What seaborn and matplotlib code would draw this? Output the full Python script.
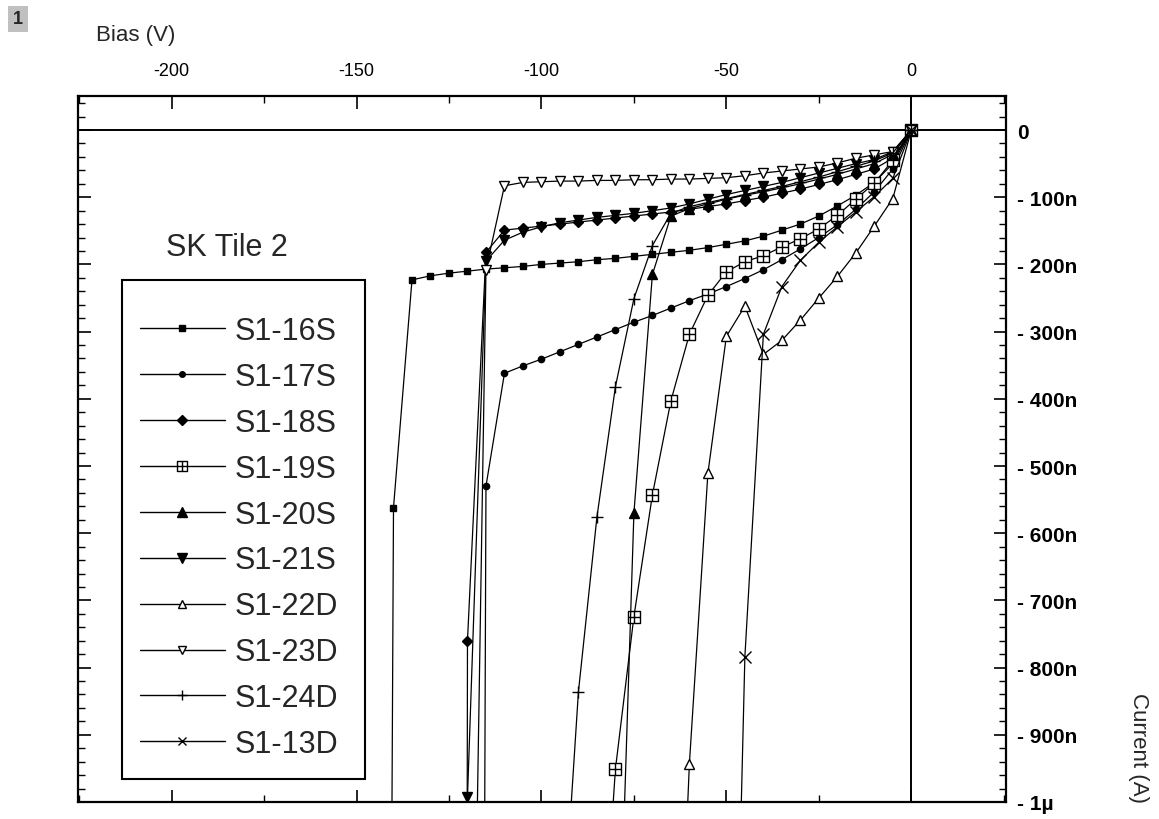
import matplotlib
matplotlib.use('Agg')
import matplotlib.pyplot as plt
from matplotlib.path import Path
from matplotlib.lines import Line2D
from matplotlib.patches import Rectangle
import seaborn as sns

# bias (V) / current (nA) per device
s16_v = [0, -5, -10, -15, -20, -25, -30, -35, -40, -45, -50, -55, -60, -65, -70, -75, -80, -85,
         -90, -95, -100, -105, -110, -115, -120, -125, -130, -135, -140, -140.5]
s16_i = [0, -50, -78, -97, -113, -128, -140, -149, -158, -165, -170, -175, -179, -182, -185, -188,
         -191, -193, -196, -198, -200, -203, -205, -207, -210, -213, -217, -223, -562, -1100]

s17_v = [0, -5, -10, -15, -20, -25, -30, -35, -40, -45, -50, -55, -60, -65, -70, -75, -80, -85,
         -90, -95, -100, -105, -110, -115, -115.4]
s17_i = [0, -58, -92, -118, -141, -160, -177, -193, -208, -221, -233, -244, -254, -265, -276, -286,
         -297, -308, -319, -330, -341, -351, -362, -530, -1100]

s18_v = [0, -5, -10, -15, -20, -25, -30, -35, -40, -45, -50, -55, -60, -65, -70, -75, -80, -85,
         -90, -95, -100, -105, -110, -115, -120, -120.1]
s18_i = [0, -42, -58, -66, -74, -81, -88, -94, -100, -105, -110, -114, -118, -122, -125, -128,
         -131, -134, -137, -140, -143, -146, -149, -182, -760, -1100]

s19_v = [0, -5, -10, -15, -20, -25, -30, -35, -40, -45, -50, -55, -60, -65, -70, -75, -80, -81.8]
s19_i = [0, -45, -79, -103, -127, -147, -162, -174, -187, -196, -211, -246, -304, -403, -543, -724,
         -951, -1100]

s20_v = [0, -5, -10, -15, -20, -25, -30, -35, -40, -45, -50, -55, -60, -65, -70, -75, -78.1]
s20_i = [0, -36, -50, -58, -66, -73, -80, -86, -92, -97, -103, -110, -117, -128, -215, -570, -1100]

s21_v = [0, -5, -10, -15, -20, -25, -30, -35, -40, -45, -50, -55, -60, -65, -70, -75, -80, -85,
         -90, -95, -100, -105, -110, -115, -120]
s21_i = [0, -32, -44, -50, -57, -64, -71, -78, -84, -90, -96, -103, -110, -116, -120, -124, -127,
         -130, -134, -138, -144, -152, -164, -195, -993]

s22_v = [0, -5, -10, -15, -20, -25, -30, -35, -40, -45, -50, -55, -60, -61.2]
s22_i = [0, -102, -143, -183, -218, -250, -283, -313, -334, -262, -307, -511, -943, -1100]

s23_v = [0, -5, -10, -15, -20, -25, -30, -35, -40, -45, -50, -55, -60, -65, -70, -75, -80, -85,
         -90, -95, -100, -105, -110, -115, -117.6]
s23_i = [0, -32, -37, -42, -49, -55, -58, -61, -64, -68, -71, -72, -73, -73, -74, -74, -75, -75,
         -76, -76, -77, -78, -83, -208, -1100]

s24_v = [0, -5, -10, -15, -20, -25, -30, -35, -40, -45, -50, -55, -60, -65, -70, -75, -80, -85,
         -90, -93.1]
s24_i = [0, -34, -46, -54, -62, -70, -77, -84, -90, -96, -102, -108, -114, -124, -172, -251, -382,
         -576, -836, -1100]

s13_v = [0, -5, -10, -15, -20, -25, -30, -35, -40, -45, -46.4]
s13_i = [0, -72, -99, -122, -144, -167, -194, -233, -304, -784, -1100]

names = ['S1-16S', 'S1-17S', 'S1-18S', 'S1-19S', 'S1-20S', 'S1-21S', 'S1-22D', 'S1-23D', 'S1-24D', 'S1-13D']

x_ticks = [-200, -150, -100, -50, 0]
x_tick_labels = ['-200', '-150', '-100', '-50', '0']
y_ticks = [0, -100, -200, -300, -400, -500, -600, -700, -800, -900, -1000]
y_tick_labels = ['0', '- 100n', '- 200n', '- 300n', '- 400n', '- 500n', '- 600n', '- 700n',
                 '- 800n', '- 900n', '- 1µ']

# square with a cross inside (the S1-19S symbol)
box_cross = Path([(-1, -1), (1, -1), (1, 1), (-1, 1), (-1, -1), (0, -1), (0, 1), (-1, 0), (1, 0)],
                 [Path.MOVETO, Path.LINETO, Path.LINETO, Path.LINETO, Path.CLOSEPOLY,
                  Path.MOVETO, Path.LINETO, Path.MOVETO, Path.LINETO])

# marker, size in plot, face colour, size in legend
styles = [
    ('s', 4.5, 'black', 4),
    ('o', 4.5, 'black', 4),
    ('D', 5.5, 'black', 5),
    (box_cross, 8, 'white', 7),
    ('^', 7, 'black', 6.5),
    ('v', 7, 'black', 6.5),
    ('^', 7, 'white', 6),
    ('v', 7, 'white', 6),
    ('+', 9, 'black', 7),
    ('x', 8, 'black', 6),
]

series = [(s16_v, s16_i), (s17_v, s17_i), (s18_v, s18_i), (s19_v, s19_i), (s20_v, s20_i),
          (s21_v, s21_i), (s22_v, s22_i), (s23_v, s23_i), (s24_v, s24_i), (s13_v, s13_i)]

sns.set_theme(style='white')
plt.rcParams['font.family'] = ['Liberation Sans', 'DejaVu Sans']

W, H = 1159, 820
fig = plt.figure(figsize=(W / 100, H / 100), dpi=100)
ax = fig.add_axes([78 / W, 1 - 803 / H, (1006 - 78) / W, (803 - 97) / H])

ax.axhline(0, color='black', lw=1.4, zorder=1)
ax.axvline(0, color='black', lw=1.4, zorder=1)

for (v, i), (mk, ms, fc, _) in zip(series, styles):
    sns.lineplot(x=v, y=i, ax=ax, sort=False, estimator=None, color='black', linewidth=0.9,
                 marker=mk, markersize=ms, markerfacecolor=fc, markeredgecolor='black',
                 markeredgewidth=1.0, zorder=3)

ax.set_xlim(-225.3, 25.6)
ax.set_ylim(-1000, 50.6)

ax.xaxis.tick_top()
ax.set_xticks(x_ticks)
ax.set_xticklabels(x_tick_labels, fontsize=13)
ax.set_xticks([-225, -175, -125, -75, -25, 25], minor=True)
ax.tick_params(axis='x', which='both', direction='in', top=True, bottom=True,
               labeltop=True, labelbottom=False, pad=12, colors='black')

ax.yaxis.tick_right()
ax.set_yticks(y_ticks)
ax.set_yticklabels(y_tick_labels, fontsize=15, fontweight='bold')
ax.set_yticks(list(range(40, -1000, -20)), minor=True)
ax.tick_params(axis='y', which='both', direction='in', left=True, right=True,
               labelright=True, labelleft=False, pad=8, colors='black')
ax.tick_params(which='major', length=9, width=1.2)
ax.tick_params(which='minor', length=5, width=1.0)
ax.set_xlabel('')
ax.set_ylabel('')

for sp in ax.spines.values():
    sp.set_color('black')
    sp.set_linewidth(1.6)

# legend box drawn separately, entries inside
ax.add_patch(Rectangle((122 / W, 1 - 780 / H), (365 - 122) / W, (780 - 281) / H,
                       transform=fig.transFigure, facecolor='white', edgecolor='black',
                       lw=1.5, clip_on=False, zorder=5))
handles = [Line2D([], [], color='black', lw=1.0, marker=mk, markersize=lms, markerfacecolor=fc,
                  markeredgecolor='black', markeredgewidth=1.0)
           for mk, _, fc, lms in styles]
leg = ax.legend(handles, names, loc='upper left', bbox_to_anchor=(140 / W, 1 - 317 / H),
                bbox_transform=fig.transFigure, frameon=False, fontsize=22, borderpad=0,
                borderaxespad=0, handlelength=2.78, handletextpad=0.33, labelspacing=0.52)
leg.set_zorder(6)

fig.text(227 / W, 1 - 248 / H, 'SK Tile 2', fontsize=22, ha='center', va='center')
fig.text(96 / W, 1 - 35 / H, 'Bias (V)', fontsize=16, ha='left', va='center')
fig.text(1138 / W, 1 - 748 / H, 'Current (A)', fontsize=16, rotation=270, ha='center', va='center')
fig.text(18 / W, 1 - 20 / H, '1', fontsize=13, fontweight='bold', ha='center', va='center',
         bbox=dict(boxstyle='square,pad=0.25', facecolor='#c0c0c0', edgecolor='none'))

fig.savefig('out.png', dpi=100)
